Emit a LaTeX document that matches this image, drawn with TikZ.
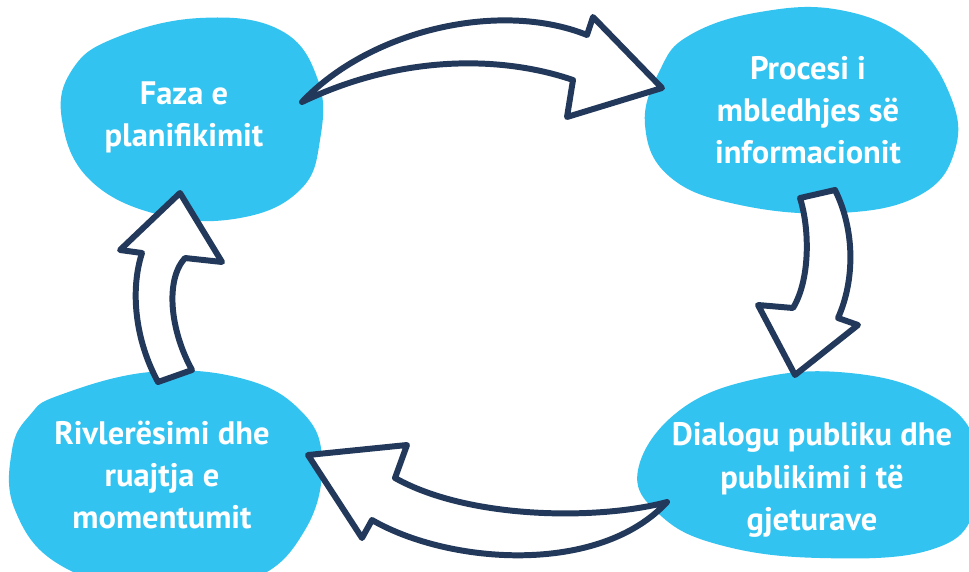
\documentclass[tikz,border=0pt]{standalone}
\usepackage{fontspec}
\setmainfont{PT Sans}
\definecolor{blobblue}{RGB}{51,195,240}
\definecolor{navy}{RGB}{35,57,91}
\tikzset{
  blob/.style={fill=blobblue, draw=none},
  cyclearrow/.style={fill=white, draw=navy, line width=3.4pt, line join=round},
  phase/.style={text=white, align=center, inner sep=0pt, font=\bfseries\fontsize{18.5}{24}\selectfont}
}
\begin{document}
\begin{tikzpicture}[x=0.02cm, y=-0.02cm]
\useasboundingbox (0,0) rectangle (969,571);
% blobs
\fill [blob] plot [smooth cycle, tension=0.7] coordinates {(115,38) (200,18) (280,30) (318,80) (320,140) (300,190) (240,218) (160,215) (90,180) (62,120) (72,70)};
\fill [blob] plot [smooth cycle, tension=0.7] coordinates {(690,35) (760,12) (840,10) (910,40) (950,95) (955,150) (920,195) (840,213) (740,205) (670,177) (645,125) (660,70)};
\fill [blob] plot [smooth cycle, tension=0.7] coordinates {(680,410) (760,378) (850,373) (930,395) (975,440) (975,510) (930,550) (820,558) (720,545) (660,515) (638,470)};
\fill [blob] plot [smooth cycle, tension=0.7] coordinates {(60,395) (150,372) (240,378) (300,410) (322,460) (305,530) (250,580) (150,590) (60,565) (15,510) (12,450) (30,415)};
% labels
\node [phase] (plan) at (184,117) {Faza e\\planifikimit};
\node [phase] (info) at (808,110) {Procesi i\\mbledhjes së\\informacionit};
\node [phase] (dialog) at (812,480) {Dialogu publiku dhe\\publikimi i të\\gjeturave};
\node [phase] (review) at (162,475) {Rivlerësimi dhe\\ruajtja e\\momentumit};
% arrows
\draw [cyclearrow] (302,102) .. controls (370,30) and (500,0) .. (587,35)
  -- (593,17) -- (662,88) -- (567,117) -- (573,80)
  .. controls (500,55) and (400,55) .. (302,102) -- cycle;
\draw [cyclearrow] (800,198) -- (835,190) .. controls (855,230) and (855,280) .. (838,318)
  -- (858,325) -- (795,375) -- (758,305) -- (793,308)
  .. controls (810,280) and (810,230) .. (800,198) -- cycle;
\draw [cyclearrow] (667,502) .. controls (600,520) and (470,520) .. (395,478)
  -- (407,445) -- (308,455) -- (362,538) -- (372,520)
  .. controls (450,565) and (600,575) .. (667,502) -- cycle;
\draw [cyclearrow] (158,382) -- (192,370) .. controls (170,330) and (165,280) .. (185,258)
  -- (222,262) -- (180,193) -- (120,250) -- (142,253)
  .. controls (130,290) and (135,340) .. (158,382) -- cycle;
\end{tikzpicture}
\end{document}
